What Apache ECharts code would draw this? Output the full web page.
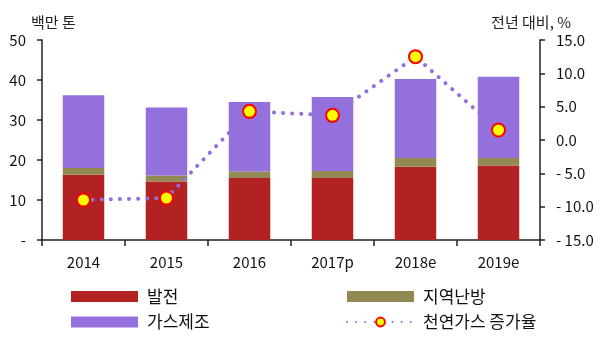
<!doctype html>
<html>
<head>
<meta charset="utf-8">
<title>천연가스 수요</title>
<script type="text/javascript" src="https://cdn.jsdelivr.net/npm/echarts@6/dist/echarts.min.js"></script>
</head>
<body style="margin:0;padding:0">
<div id="tb" style="width:600px;height:352px;"></div>
<script>
// 데이터
var years = ['2014', '2015', '2016', '2017p', '2018e', '2019e'];
var power = [16.3, 14.6, 15.5, 15.5, 18.3, 18.6];      // 발전
var heating = [1.7, 1.5, 1.6, 1.75, 2.2, 1.9];         // 지역난방
var gasMaking = [18.2, 17.0, 17.4, 18.5, 19.75, 20.3]; // 가스제조
var growth = [-9.0, -8.7, 4.3, 3.7, 12.5, 1.5];       // 천연가스 증가율

var font = 'Noto Sans CJK KR';
var chart = echarts.init(document.getElementById('tb'));

var axisCommon = {
    axisLine: { show: true, lineStyle: { color: '#222', width: 1.5 } },
    axisTick: { show: true, inside: false, length: 5, lineStyle: { color: '#222', width: 1.5 } },
    splitLine: { show: false }
};

// 범례 공통 설정
var legendCommon = {
    orient: 'vertical', top: 288, padding: 0,
    itemWidth: 67, itemHeight: 11, itemGap: 8.5,
    textStyle: { fontSize: 17, color: '#111', fontFamily: font, padding: [0, 0, 0, 4] }
};

chart.setOption({
    animation: false,
    textStyle: { fontFamily: font },
    title: [
        { text: '백만 톤', left: 26, top: 10, textStyle: { fontSize: 15, fontWeight: 'normal', color: '#222', fontFamily: font } },
        { text: '전년 대비, %', right: 24, top: 10, textStyle: { fontSize: 15, fontWeight: 'normal', color: '#222', fontFamily: font } }
    ],
    grid: { left: 42, right: 60, top: 40, bottom: 112, containLabel: false },
    xAxis: {
        type: 'category',
        data: years,
        axisLine: { lineStyle: { color: '#222', width: 1.5 } },
        axisTick: { show: true, length: 6, lineStyle: { color: '#222', width: 1.5 } },
        axisLabel: { fontSize: 15, color: '#111', margin: 15, fontFamily: font }
    },
    yAxis: [
        Object.assign({
            type: 'value', min: 0, max: 50, interval: 10,
            axisLabel: {
                fontSize: 15, color: '#111', margin: 16, fontFamily: font,
                formatter: function (v) { return v === 0 ? '-' : v; }
            }
        }, axisCommon),
        Object.assign({
            type: 'value', min: -15, max: 15, interval: 5, position: 'right',
            axisLabel: {
                fontSize: 15, color: '#111', margin: 16, fontFamily: font,
                formatter: function (v) { return v < 0 ? '- ' + Math.abs(v).toFixed(1) : v.toFixed(1); }
            }
        }, axisCommon)
    ],
    legend: [
        Object.assign({ data: [{ name: '발전', icon: 'rect' }, { name: '가스제조', icon: 'rect' }], left: 71 }, legendCommon),
        Object.assign({ data: [{ name: '지역난방', icon: 'rect' }, '천연가스 증가율'], left: 346 }, legendCommon)
    ],
    series: [
        { name: '발전', type: 'bar', stack: 'a', data: power, barWidth: '50%', itemStyle: { color: '#B22222' } },
        { name: '지역난방', type: 'bar', stack: 'a', data: heating, barWidth: '50%', itemStyle: { color: '#938953' } },
        { name: '가스제조', type: 'bar', stack: 'a', data: gasMaking, barWidth: '50%', itemStyle: { color: '#9370DB' } },
        {
            name: '천연가스 증가율', type: 'line', yAxisIndex: 1, data: growth,
            symbol: 'circle', symbolSize: 13,
            itemStyle: { color: '#FFFF00', borderColor: '#FF0000', borderWidth: 2 },
            lineStyle: { color: '#9370DB', width: 4, type: [0.1, 9], cap: 'round' },
            z: 5
        }
    ]
});
</script>
</body>
</html>
